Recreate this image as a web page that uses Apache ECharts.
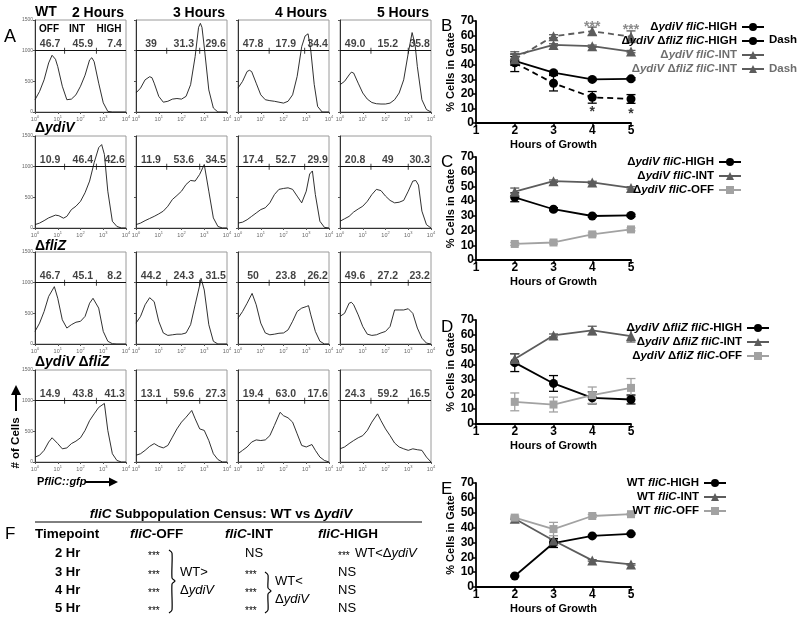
<!DOCTYPE html>
<html><head><meta charset="utf-8">
<script src="https://cdn.jsdelivr.net/npm/echarts@6.0.0/dist/echarts.min.js"></script>
<style>html,body{margin:0;padding:0;background:#fff}#c{width:800px;height:620px}</style>
</head><body><div id="c"></div><script>
// ---------------- DATA ----------------
const HOUR_LABELS = ['2 Hours', '3 Hours', '4 Hours', '5 Hours'];
const STRAIN_LABELS = ['WT', 'Δ{i|ydiV}', 'Δ{i|fliZ}', 'Δ{i|ydiV} Δ{i|fliZ}'];
const GATE_NAMES = ['OFF', 'INT', 'HIGH'];
const HIST_Y_TICKS = [0, 500, 1000, 1500];
const HIST_X_EXP = [0, 1, 2, 3, 4];

// histograms: [log10(fluorescence), # of cells]
const WT_2H = [[0,200],[0.2,335],[0.4,525],[0.6,800],[0.75,925],[0.9,860],[1.0,740],[1.2,420],[1.4,200],[1.6,210],[1.8,280],[2.0,420],[2.2,600],[2.4,850],[2.5,885],[2.6,820],[2.8,470],[3.0,150],[3.2,10],[3.4,0],[4,0]];
const WT_3H = [[0,310],[0.2,390],[0.4,525],[0.6,575],[0.7,560],[0.8,470],[1.0,255],[1.2,160],[1.4,175],[1.6,210],[1.8,220],[2.0,210],[2.2,255],[2.4,445],[2.6,905],[2.75,1380],[2.83,1445],[2.9,1380],[3.0,1060],[3.2,360],[3.4,65],[3.6,0],[4,0]];
const WT_4H = [[0,390],[0.2,500],[0.4,660],[0.5,680],[0.6,660],[0.8,470],[1.0,280],[1.2,200],[1.4,185],[1.6,175],[1.8,160],[2.0,145],[2.2,175],[2.4,280],[2.6,580],[2.8,1065],[2.95,1240],[3.08,1275],[3.2,1000],[3.35,450],[3.5,90],[3.7,0],[4,0]];
const WT_5H = [[0,445],[0.2,500],[0.4,605],[0.5,650],[0.6,635],[0.8,470],[1.0,310],[1.2,210],[1.4,155],[1.6,135],[1.8,130],[2.0,130],[2.2,145],[2.4,200],[2.6,310],[2.8,525],[3.0,960],[3.17,1295],[3.3,1100],[3.4,740],[3.6,200],[3.8,40],[4,0]];
const YDIV_2H = [[0,55],[0.2,80],[0.4,120],[0.6,165],[0.9,210],[1.05,200],[1.25,160],[1.4,190],[1.6,300],[1.8,355],[2.0,435],[2.2,575],[2.4,765],[2.6,1065],[2.8,1310],[2.93,1360],[3.05,1200],[3.2,600],[3.4,110],[3.6,25],[3.8,0],[4,0]];
const YDIV_3H = [[0,55],[0.2,80],[0.4,120],[0.6,155],[0.8,190],[1.0,230],[1.2,275],[1.4,355],[1.6,465],[1.8,530],[2.0,600],[2.2,710],[2.4,775],[2.6,765],[2.8,875],[3.0,1035],[3.05,1030],[3.2,600],[3.4,165],[3.6,25],[3.8,0],[4,0]];
const YDIV_4H = [[0,80],[0.2,95],[0.4,135],[0.6,190],[0.8,245],[1.0,300],[1.2,330],[1.4,410],[1.6,545],[1.8,630],[2.0,645],[2.2,655],[2.4,630],[2.6,520],[2.8,410],[3.0,600],[3.15,880],[3.27,930],[3.4,545],[3.6,110],[3.8,10],[4,0]];
const YDIV_5H = [[0,110],[0.2,150],[0.4,190],[0.6,260],[0.8,310],[1.0,355],[1.2,435],[1.4,545],[1.6,630],[1.8,610],[2.0,520],[2.2,450],[2.4,410],[2.6,420],[2.8,450],[3.0,600],[3.2,765],[3.33,775],[3.45,700],[3.6,275],[3.8,55],[4,0]];
const FLIZ_2H = [[0,205],[0.2,340],[0.4,530],[0.6,775],[0.85,935],[1.0,745],[1.2,395],[1.4,260],[1.6,315],[1.8,355],[2.0,370],[2.2,450],[2.4,665],[2.55,745],[2.8,585],[3.0,205],[3.2,45],[3.4,5],[3.6,0],[4,0]];
const FLIZ_3H = [[0,340],[0.2,450],[0.4,640],[0.6,755],[0.8,690],[1.0,370],[1.2,180],[1.4,140],[1.6,150],[1.8,160],[2.0,160],[2.2,180],[2.4,315],[2.6,640],[2.8,960],[2.86,1070],[3.0,880],[3.2,315],[3.4,45],[3.6,0],[4,0]];
const FLIZ_4H = [[0,420],[0.2,530],[0.4,665],[0.62,825],[0.8,640],[1.0,340],[1.2,180],[1.4,150],[1.6,160],[1.8,175],[2.0,180],[2.2,230],[2.4,370],[2.6,530],[2.8,585],[3.0,610],[3.1,625],[3.2,475],[3.4,205],[3.6,45],[3.8,0],[4,0]];
const FLIZ_5H = [[0,450],[0.2,500],[0.4,665],[0.5,680],[0.6,640],[0.8,475],[1.0,285],[1.2,160],[1.4,140],[1.6,150],[1.8,180],[2.0,205],[2.2,285],[2.4,555],[2.6,555],[2.8,555],[3.0,575],[3.2,500],[3.4,260],[3.6,95],[3.8,15],[4,0]];
const DD_2H = [[0,80],[0.2,110],[0.4,190],[0.6,325],[0.75,395],[1.0,300],[1.2,215],[1.4,230],[1.6,300],[1.8,340],[2.0,395],[2.2,515],[2.4,675],[2.6,785],[2.8,890],[3.05,955],[3.2,515],[3.4,135],[3.6,25],[3.8,0],[4,0]];
const DD_3H = [[0,110],[0.2,135],[0.4,190],[0.6,255],[0.8,300],[1.0,255],[1.2,230],[1.4,270],[1.6,405],[1.8,540],[2.0,650],[2.2,730],[2.45,840],[2.6,705],[2.8,540],[3.0,515],[3.2,350],[3.4,135],[3.6,40],[3.8,0],[4,0]];
const DD_4H = [[0,135],[0.2,190],[0.4,245],[0.6,325],[0.8,360],[1.0,350],[1.2,360],[1.4,430],[1.6,595],[1.85,810],[2.0,755],[2.2,720],[2.4,650],[2.6,460],[2.8,270],[3.0,245],[3.25,285],[3.4,190],[3.6,80],[3.8,25],[4,0]];
const DD_5H = [[0,215],[0.2,245],[0.4,300],[0.6,350],[0.8,395],[1.0,430],[1.2,515],[1.4,650],[1.65,785],[1.8,675],[2.0,540],[2.2,430],[2.4,310],[2.6,245],[2.8,215],[3.0,190],[3.2,215],[3.4,200],[3.6,190],[3.8,80],[4,0]];

// gate percentages (OFF, INT, HIGH)
const PCT_WT   = [['46.7','45.9','7.4'],['39','31.3','29.6'],['47.8','17.9','34.4'],['49.0','15.2','35.8']];
const PCT_YDIV = [['10.9','46.4','42.6'],['11.9','53.6','34.5'],['17.4','52.7','29.9'],['20.8','49','30.3']];
const PCT_FLIZ = [['46.7','45.1','8.2'],['44.2','24.3','31.5'],['50','23.8','26.2'],['49.6','27.2','23.2']];
const PCT_DD   = [['14.9','43.8','41.3'],['13.1','59.6','27.3'],['19.4','63.0','17.6'],['24.3','59.2','16.5']];
// gate boundaries (log10) per time column
const GATE_BOUNDS = [[1.3,2.7],[1.35,2.8],[1.37,2.93],[1.36,3.0]];

// line charts
const GROWTH_HOURS = [2, 3, 4, 5];
const YDIV_HIGH = [42.6, 34.5, 29.9, 30.3];   const YDIV_HIGH_ERR = [3, 1, 0.8, 0.8];
const YDIV_INT  = [46.4, 53.6, 52.7, 49.0];   const YDIV_INT_ERR  = [2.5, 0.8, 0.8, 0.8];
const YDIV_OFF  = [10.9, 11.9, 17.4, 20.8];   const YDIV_OFF_ERR  = [1, 1, 1, 1];
const DD_HIGH   = [41.3, 27.3, 17.6, 16.5];   const DD_HIGH_ERR   = [6, 5.3, 4, 3];
const DD_INT    = [43.8, 59.6, 63.0, 59.2];   const DD_INT_ERR    = [3.5, 1, 2.8, 4];
const DD_OFF    = [14.9, 13.1, 19.4, 24.3];   const DD_OFF_ERR    = [6, 5, 5.5, 6.3];
const WT_HIGH   = [7.4, 29.6, 34.4, 35.8];    const WT_HIGH_ERR   = [0.5, 3, 0.5, 0.5];
const WT_INT    = [45.9, 31.3, 17.9, 15.2];   const WT_INT_ERR    = [0.5, 0.5, 0.5, 0.5];
const WT_OFF    = [46.7, 39.0, 47.8, 49.0];   const WT_OFF_ERR    = [1, 4.5, 1, 0.5];
const B_STARS = [[4, 65.7, '***', 'int'], [5, 64.0, '***', 'int'], [4, 7.6, '*', 'high'], [5, 6.2, '*', 'high']];

// table F
const TABLE_TITLE = '{i|fliC} Subpopulation Census: WT vs Δ{i|ydiV}';
const TABLE_HEAD = ['Timepoint', '{i|fliC}-OFF', '{i|fliC}-INT', '{i|fliC}-HIGH'];
const TABLE_TIMES = ['2 Hr', '3 Hr', '4 Hr', '5 Hr'];
const TABLE_OFF = ['***', '***', '***', '***'];
const TABLE_INT = ['NS', '***', '***', '***'];
const TABLE_HIGH = ['***', 'NS', 'NS', 'NS'];

// ---------------- LAYOUT ----------------
const FONT = 'Liberation Sans, Arial, Helvetica, sans-serif';
const C_HIGH = '#000000', C_INT = '#5c5c5c', C_OFF = '#a2a2a2', C_INT_TXT = '#6e6e6e';
const HIST = [[WT_2H, WT_3H, WT_4H, WT_5H], [YDIV_2H, YDIV_3H, YDIV_4H, YDIV_5H],
              [FLIZ_2H, FLIZ_3H, FLIZ_4H, FLIZ_5H], [DD_2H, DD_3H, DD_4H, DD_5H]];
const PCT = [PCT_WT, PCT_YDIV, PCT_FLIZ, PCT_DD];
const COL_LEFT = [35, 136, 238, 340], HIST_W = 91;
const ROW_TOP = [20, 136, 252, 370], HIST_H = 92;
const PCT_POS = [0.66, 2.1, 3.5];

const grids = [], xAxes = [], yAxes = [], series = [];
let gi = 0;
for (let r = 0; r < 4; r++) {
  for (let c = 0; c < 4; c++) {
    grids.push({left: COL_LEFT[c], top: ROW_TOP[r], width: HIST_W, height: HIST_H, show: true,
      borderColor: '#9a9a9a', borderWidth: 1});
    xAxes.push({gridIndex: gi, type: 'value', min: 0, max: 4, interval: 1,
      axisLine: {onZero: false, lineStyle: {color: '#333', width: 1}},
      axisTick: {length: 2, lineStyle: {color: '#555'}}, splitLine: {show: false},
      axisLabel: {margin: 3, color: '#666', fontFamily: FONT,
        formatter: v => '{m|10}{s|' + HIST_X_EXP[v] + '}',
        rich: {m: {fontSize: 5.5, color: '#666', fontFamily: FONT},
               s: {fontSize: 4, color: '#666', fontFamily: FONT, padding: [0, 0, 4, 0]}}}});
    yAxes.push({gridIndex: gi, type: 'value', min: 0, max: 1500, interval: 500,
      axisLine: {show: true, lineStyle: {color: '#333', width: 1}},
      axisTick: {show: true, length: 2, lineStyle: {color: '#555'}}, splitLine: {show: false},
      axisLabel: {show: c === 0, fontSize: 5, color: '#666', margin: 2, fontFamily: FONT,
        formatter: v => HIST_Y_TICKS.includes(v) ? String(v) : ''}});
    series.push({type: 'line', xAxisIndex: gi, yAxisIndex: gi, data: HIST[r][c], symbol: 'none',
      silent: true, lineStyle: {color: '#1a1a1a', width: 0.9},
      markLine: {silent: true, symbol: 'none', label: {show: false}, animation: false,
        lineStyle: {color: '#111', width: 1, type: 'solid'}, data: [{yAxis: 1000}]}});
    series.push({type: 'scatter', xAxisIndex: gi, yAxisIndex: gi, symbol: 'rect', symbolSize: [1, 6],
      silent: true, itemStyle: {color: '#111'}, data: GATE_BOUNDS[c].map(g => [g, 1000])});
    series.push({type: 'scatter', xAxisIndex: gi, yAxisIndex: gi, symbolSize: 1, silent: true,
      itemStyle: {color: 'transparent'},
      data: PCT[r][c].map((t, k) => [PCT_POS[k], 1110, t]),
      label: {show: true, position: 'inside', formatter: p => p.value[2], fontSize: 10.5, fontWeight: 'bold',
        color: '#111', fontFamily: FONT}});
    gi++;
  }
}

// line charts B-E
const LINE_TOPS = [[21, 102], [157, 103], [320, 104], [483, 104]];
const lineAxisBase = gi;
LINE_TOPS.forEach(([top, h], k) => {
  grids.push({left: 476, top: top, width: 155, height: h});
  xAxes.push({gridIndex: gi, type: 'value', min: 1, max: 5, interval: 1,
    name: 'Hours of Growth', nameLocation: 'middle', nameGap: 16,
    nameTextStyle: {fontWeight: 'bold', fontSize: 11, fontFamily: FONT, color: '#000'},
    axisLine: {onZero: false, lineStyle: {color: '#000', width: 1.8}},
    axisTick: {length: 4, lineStyle: {width: 1.5, color: '#000'}}, splitLine: {show: false},
    axisLabel: {fontWeight: 'bold', fontSize: 12, color: '#000', margin: 2, fontFamily: FONT}});
  yAxes.push({gridIndex: gi, type: 'value', min: 0, max: 70, interval: 10,
    name: '% Cells in Gate', nameLocation: 'middle', nameGap: 18, nameRotate: 90,
    nameTextStyle: {fontWeight: 'bold', fontSize: 11, fontFamily: FONT, color: '#000'},
    axisLine: {show: true, lineStyle: {color: '#000', width: 1.8}},
    axisTick: {show: true, length: 4, lineStyle: {width: 1.5, color: '#000'}}, splitLine: {show: false},
    axisLabel: {fontWeight: 'bold', fontSize: 12, color: '#000', margin: 2, fontFamily: FONT}});
  gi++;
});

const SYM = {high: 'circle', int: 'triangle', off: 'rect'};
const COL = {high: C_HIGH, int: C_INT, off: C_OFF};
const SIZE = {high: 9, int: 10, off: 8};
function lineSeries(name, ax, ys, kind, dashed) {
  return {type: 'line', name: name, xAxisIndex: ax, yAxisIndex: ax, z: 3,
    data: GROWTH_HOURS.map((h, i) => [h, ys[i]]), symbol: SYM[kind], symbolSize: SIZE[kind],
    itemStyle: {color: COL[kind]},
    lineStyle: {color: COL[kind], width: 1.8, type: dashed ? [6, 4] : 'solid'}};
}
function errSeries(ax, ys, errs, kind) {
  const color = COL[kind];
  return {type: 'custom', xAxisIndex: ax, yAxisIndex: ax, silent: true, z: 2,
    data: GROWTH_HOURS.map((h, i) => [h, ys[i] - errs[i], ys[i] + errs[i]]),
    encode: {x: 0, y: [1, 2]},
    renderItem: (params, api) => {
      const x = api.value(0);
      const lo = api.coord([x, api.value(1)]), hi = api.coord([x, api.value(2)]);
      const w = 4.5, st = {stroke: color, lineWidth: 1.3};
      return {type: 'group', children: [
        {type: 'line', shape: {x1: lo[0], y1: lo[1], x2: hi[0], y2: hi[1]}, style: st},
        {type: 'line', shape: {x1: lo[0] - w, y1: lo[1], x2: lo[0] + w, y2: lo[1]}, style: st},
        {type: 'line', shape: {x1: hi[0] - w, y1: hi[1], x2: hi[0] + w, y2: hi[1]}, style: st}]};
    }};
}
const aB = lineAxisBase, aC = lineAxisBase + 1, aD = lineAxisBase + 2, aE = lineAxisBase + 3;
const N = {
  yH: 'ΔydiV fliC-HIGH', yI: 'ΔydiV fliC-INT', yO: 'ΔydiV fliC-OFF',
  dH: 'ΔydiV ΔfliZ fliC-HIGH', dI: 'ΔydiV ΔfliZ fliC-INT', dO: 'ΔydiV ΔfliZ fliC-OFF',
  wH: 'WT fliC-HIGH', wI: 'WT fliC-INT', wO: 'WT fliC-OFF'};
// B
series.push(errSeries(aB, YDIV_HIGH, YDIV_HIGH_ERR, 'high'), errSeries(aB, DD_HIGH, DD_HIGH_ERR, 'high'),
  errSeries(aB, YDIV_INT, YDIV_INT_ERR, 'int'), errSeries(aB, DD_INT, DD_INT_ERR, 'int'));
series.push(lineSeries(N.yH, aB, YDIV_HIGH, 'high', false), lineSeries(N.dH, aB, DD_HIGH, 'high', true),
  lineSeries(N.yI, aB, YDIV_INT, 'int', false), lineSeries(N.dI, aB, DD_INT, 'int', true));
series.push({type: 'scatter', xAxisIndex: aB, yAxisIndex: aB, symbolSize: 1, silent: true,
  itemStyle: {color: 'transparent'},
  data: B_STARS.map(d => ({value: d, label: {color: d[3] === 'int' ? C_INT_TXT : '#000'}})),
  label: {show: true, position: 'inside', formatter: p => p.value[2], fontSize: 14, fontWeight: 'bold',
    fontFamily: FONT, color: '#000'}});
// C
series.push(errSeries(aC, YDIV_HIGH, YDIV_HIGH_ERR, 'high'), errSeries(aC, YDIV_INT, YDIV_INT_ERR, 'int'),
  errSeries(aC, YDIV_OFF, YDIV_OFF_ERR, 'off'));
series.push(lineSeries(N.yH, aC, YDIV_HIGH, 'high'), lineSeries(N.yI, aC, YDIV_INT, 'int'),
  lineSeries(N.yO, aC, YDIV_OFF, 'off'));
// D
series.push(errSeries(aD, DD_HIGH, DD_HIGH_ERR, 'high'), errSeries(aD, DD_INT, DD_INT_ERR, 'int'),
  errSeries(aD, DD_OFF, DD_OFF_ERR, 'off'));
series.push(lineSeries(N.dH + '\u200b', aD, DD_HIGH, 'high'), lineSeries(N.dI + '\u200b', aD, DD_INT, 'int'),
  lineSeries(N.dO, aD, DD_OFF, 'off'));
// E
series.push(errSeries(aE, WT_HIGH, WT_HIGH_ERR, 'high'), errSeries(aE, WT_INT, WT_INT_ERR, 'int'),
  errSeries(aE, WT_OFF, WT_OFF_ERR, 'off'));
series.push(lineSeries(N.wH, aE, WT_HIGH, 'high'), lineSeries(N.wI, aE, WT_INT, 'int'),
  lineSeries(N.wO, aE, WT_OFF, 'off'));

const legendText = {fontWeight: 'bold', fontSize: 11.5, fontFamily: FONT, color: '#000', lineHeight: 12,
  rich: {i: {fontStyle: 'italic', fontWeight: 'bold', fontSize: 11.5, fontFamily: FONT, lineHeight: 12}}};
const legFmt = n => n.replace(/(ydiV|fliZ|fliC)/g, '{i|$1}');
function legend(data, right, top) {
  return {orient: 'vertical', align: 'right', right: right, top: top, padding: 0, itemGap: 2,
    itemWidth: 22, itemHeight: 10, selectedMode: false, formatter: legFmt, textStyle: legendText,
    lineStyle: {type: 'solid'}, data: data};
}
const legends = [
  legend([N.yH, N.dH, {name: N.yI, textStyle: {color: C_INT_TXT}}, {name: N.dI, textStyle: {color: C_INT_TXT}}], 35, 21),
  legend([N.yH, N.yI, N.yO], 58, 156),
  legend([N.dH + '\u200b', N.dI + '\u200b', N.dO], 30, 322),
  legend([N.wH, N.wI, N.wO], 73, 477)
];

// ---------------- GRAPHIC TEXT ----------------
function txt(x, y, text, o) {
  o = o || {};
  const size = o.size || 12, weight = o.weight || 'bold', align = o.align || 'left', color = o.color || '#000';
  return {type: 'text', silent: true, x: x, y: y, rotation: o.rot || 0,
    style: {text: text, fontSize: size, fontWeight: weight, fontFamily: FONT, fill: color,
      align: align, verticalAlign: 'middle', textAlign: align, textVerticalAlign: 'middle',
      rich: {i: {fontStyle: 'italic', fontWeight: weight, fontSize: size, fontFamily: FONT, fill: color}}}};
}
const g = [];
g.push(txt(4, 37, 'A', {size: 18, weight: 'normal'}));
g.push(txt(35, 12, STRAIN_LABELS[0], {size: 14}));
HOUR_LABELS.forEach((h, c) => g.push(txt(COL_LEFT[c] + 89, 13, h, {size: 14, align: 'right'})));
[49, 77, 109].forEach((x, k) => g.push(txt(x, 29, GATE_NAMES[k], {size: 10, align: 'center'})));
[128, 246, 362].forEach((y, k) => g.push(txt(35, y, STRAIN_LABELS[k + 1], {size: 14})));
g.push(txt(16, 443, '# of Cells', {size: 11.5, rot: Math.PI / 2, align: 'center'}));
g.push({type: 'line', silent: true, shape: {x1: 16, y1: 411, x2: 16, y2: 393}, style: {stroke: '#000', lineWidth: 2}});
g.push({type: 'polygon', silent: true, shape: {points: [[11, 395], [16, 385], [21, 395]]}, style: {fill: '#000'}});
g.push(txt(37, 482, 'P{i|fliC::gfp}', {size: 11}));
g.push({type: 'line', silent: true, shape: {x1: 85, y1: 482, x2: 110, y2: 482}, style: {stroke: '#000', lineWidth: 2}});
g.push({type: 'polygon', silent: true, shape: {points: [[109, 477.5], [118, 482], [109, 486.5]]}, style: {fill: '#000'}});
// panel letters
[['B', 26], ['C', 162], ['D', 327], ['E', 489]].forEach(([l, y]) => g.push(txt(441, y, l, {size: 17, weight: 'normal'})));
g.push(txt(769, 40, 'Dash', {size: 11.5}));
g.push(txt(769, 69, 'Dash', {size: 11.5, color: C_INT_TXT}));
// table F
g.push(txt(221, 514, TABLE_TITLE, {size: 13.5, align: 'center'}));
g.push({type: 'line', silent: true, shape: {x1: 35, y1: 522, x2: 422, y2: 522}, style: {stroke: '#000', lineWidth: 1}});
g.push(txt(5, 534, 'F', {size: 17, weight: 'normal'}));
[35, 130, 225, 318].forEach((x, k) => g.push(txt(x, 534, TABLE_HEAD[k], {size: 13.5})));
const ROW_Y = [553, 572, 590, 608];
TABLE_TIMES.forEach((t, k) => {
  g.push(txt(55, ROW_Y[k], t, {size: 13}));
  g.push(txt(148, ROW_Y[k] + 3, TABLE_OFF[k], {size: 10, weight: 'normal'}));
  const intStar = TABLE_INT[k] === '***';
  g.push(txt(245, ROW_Y[k] + (intStar ? 3 : 0), TABLE_INT[k], {size: intStar ? 10 : 13, weight: 'normal'}));
  const hiStar = TABLE_HIGH[k] === '***';
  g.push(txt(338, ROW_Y[k] + (hiStar ? 3 : 0), TABLE_HIGH[k], {size: hiStar ? 10 : 13, weight: 'normal'}));
});
g.push(txt(355, 553, 'WT<Δ{i|ydiV}', {size: 13, weight: 'normal'}));
g.push(txt(180, 572, 'WT>', {size: 13, weight: 'normal'}));
g.push(txt(180, 590, 'Δ{i|ydiV}', {size: 13, weight: 'normal'}));
g.push(txt(275, 581, 'WT<', {size: 13, weight: 'normal'}));
g.push(txt(275, 599, 'Δ{i|ydiV}', {size: 13, weight: 'normal'}));
function brace(x, y0, y1, ym) {
  return {type: 'polyline', silent: true,
    shape: {points: [[x, y0], [x + 3, y0 + 3], [x + 3, ym - 3], [x + 6, ym], [x + 3, ym + 3], [x + 3, y1 - 3], [x, y1]], smooth: 0.25},
    style: {stroke: '#000', lineWidth: 1.2, fill: null}};
}
g.push(brace(169, 550, 613, 581));
g.push(brace(265, 572, 613, 591));

const chart = echarts.init(document.getElementById('c'), null, {renderer: 'canvas'});
chart.setOption({
  animation: false, backgroundColor: '#fff',
  grid: grids, xAxis: xAxes, yAxis: yAxes, series: series, legend: legends, graphic: g
});
</script></body></html>
